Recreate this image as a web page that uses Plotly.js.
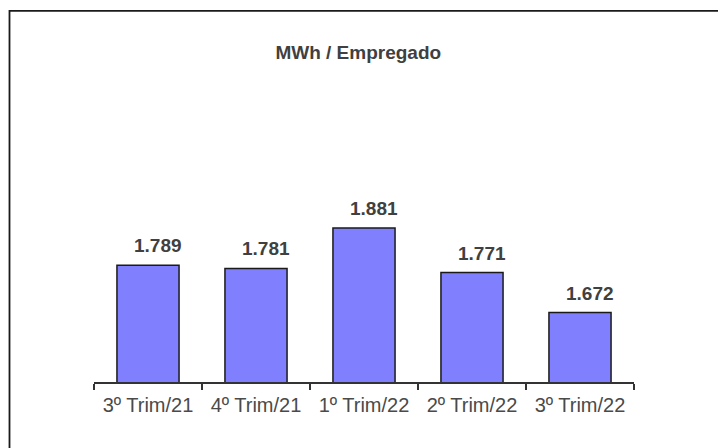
<!DOCTYPE html>
<html>
<head>
<meta charset="utf-8">
<script src="https://cdn.plot.ly/plotly-3.0.1.min.js"></script>
<style>
html,body{margin:0;padding:0;background:#fff;}
#chart{width:718px;height:448px;}
</style>
</head>
<body>
<div id="chart"></div>
<script>
const categories = ["3º Trim/21", "4º Trim/21", "1º Trim/22", "2º Trim/22", "3º Trim/22"];
const values = [1789, 1781, 1881, 1771, 1672];
const valueLabels = ["1.789", "1.781", "1.881", "1.771", "1.672"];
const chartTitle = "MWh / Empregado";

const textColor = "#404040";

const trace = {
  type: "bar",
  x: categories,
  y: values,
  marker: { color: "#8080FF", line: { color: "#1a1a1a", width: 1.5 } },
  hoverinfo: "none"
};

const annotations = categories.map((c, i) => ({
  x: c, y: values[i], xref: "x", yref: "y",
  text: "<b>" + valueLabels[i] + "</b>",
  showarrow: false, yanchor: "bottom", xanchor: "center",
  xshift: 10, yshift: 7,
  font: { family: "Arial, Liberation Sans, sans-serif", size: 19, color: textColor }
}));

const layout = {
  width: 718, height: 448,
  paper_bgcolor: "#ffffff", plot_bgcolor: "rgba(0,0,0,0)",
  margin: { l: 94, r: 84, t: 180, b: 66 },
  showlegend: false,
  bargap: 0.425,
  title: {
    text: "<b>" + chartTitle + "</b>",
    x: 0.499, xref: "container", xanchor: "center",
    y: 0.884, yref: "container", yanchor: "middle",
    font: { family: "Arial, Liberation Sans, sans-serif", size: 19, color: textColor }
  },
  xaxis: {
    type: "category",
    showline: true, linecolor: "#333333", linewidth: 1.5,
    ticks: "outside", tickson: "boundaries", ticklen: 6, tickcolor: "#333333", tickwidth: 1.2,
    ticklabelstandoff: 4,
    showgrid: false, zeroline: false,
    tickfont: { family: "Arial, Liberation Sans, sans-serif", size: 20, color: "#4a4a4a" }
  },
  yaxis: {
    range: [1500, 2000],
    visible: false, showgrid: false, zeroline: false, fixedrange: true
  },
  annotations: annotations,
  shapes: [
    { type: "line", xref: "paper", yref: "paper",
      x0: (9.5 - 94) / 540, x1: (720 - 94) / 540,
      y0: (382 - 10.8) / 202, y1: (382 - 10.8) / 202,
      line: { color: "#1a1a1a", width: 1.8 } },
    { type: "line", xref: "paper", yref: "paper",
      x0: (9.5 - 94) / 540, x1: (9.5 - 94) / 540,
      y0: (382 - 10) / 202, y1: (382 - 450) / 202,
      line: { color: "#1a1a1a", width: 1.8 } }
  ]
};

Plotly.newPlot("chart", [trace], layout, { displayModeBar: false, staticPlot: true });
</script>
</body>
</html>
